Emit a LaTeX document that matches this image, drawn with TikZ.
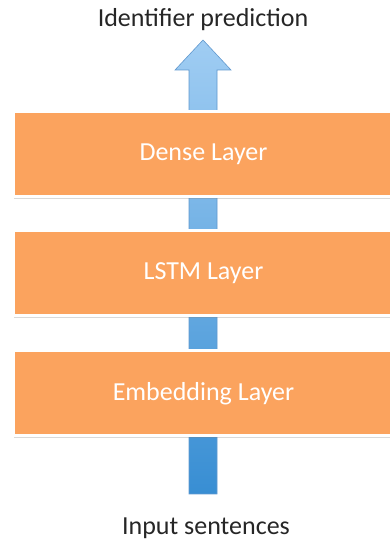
\documentclass[tikz,border=0pt]{standalone}
\usepackage{fontspec}
\setmainfont{Carlito}
\usetikzlibrary{positioning, calc, shadows}

\definecolor{layerorange}{RGB}{251,163,94}
\definecolor{arrowtop}{RGB}{160,205,243}
\definecolor{arrowbot}{RGB}{56,142,211}
\definecolor{arrowline}{RGB}{96,152,206}

\begin{document}
\begin{tikzpicture}[x=1pt, y=1pt,
            layer/.style = {rectangle, fill=layerorange, draw=white, line width=3pt,
                minimum width=380pt, minimum height=85pt, text=white,
                font=\fontsize{26}{30}\selectfont,
                drop shadow={shadow xshift=0pt, shadow yshift=-2.5pt, opacity=0.3}},
            caption/.style = {font=\fontsize{26}{30}\selectfont, text=black!85}]
            \useasboundingbox (0,0) rectangle (389,544);
            \def\shaft{14}
            \def\head{28}
            \node[caption] (output) at (203,524) {Identifier prediction};
            \node[caption] (input) at (206,16) {Input sentences};
            \coordinate (tail) at (203,50);
            \coordinate (neck) at (203,474);
            \coordinate (tip) at (203,504);
            % one wide arrow running up behind all three layers
            \shade[top color=arrowtop, bottom color=arrowbot, draw=arrowline, line width=0.6pt]
                ($(tail)+(-\shaft,0)$) -- ($(neck)+(-\shaft,0)$) -- ($(neck)+(-\head,0)$)
                -- (tip) -- ($(neck)+(\head,0)$) -- ($(neck)+(\shaft,0)$)
                -- ($(tail)+(\shaft,0)$) -- cycle;
            \node[layer] (embed) at (203.5,150.5) {Embedding Layer};
            \node[layer, above=32pt of embed] (lstm) {LSTM Layer};
            \node[layer, above=31pt of lstm] (dense) {Dense Layer};
        \end{tikzpicture}
\end{document}
